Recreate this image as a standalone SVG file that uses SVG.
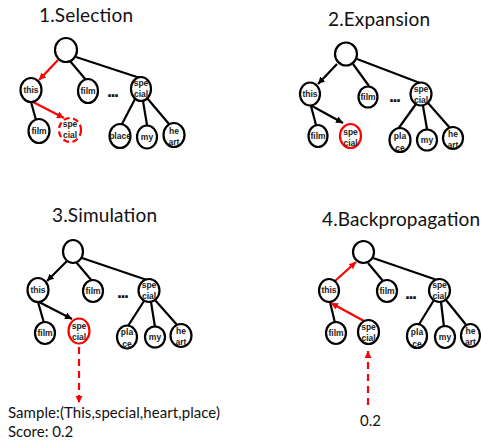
<svg xmlns="http://www.w3.org/2000/svg" width="481" height="442" viewBox="0 0 481 442">
  <style>
    .title { font-family: Lato, "Liberation Sans", sans-serif; font-size: 19px; fill: #111; }
    .note { font-family: Lato, "Liberation Sans", sans-serif; font-size: 15px; fill: #111; }
    .node ellipse { fill: #fff; stroke: #000; stroke-width: 2.2; }
    .node.hot ellipse { stroke: #f00; }
    .node.dash ellipse { stroke: #f00; stroke-dasharray: 6 3.5; }
    .node text { font-family: "Liberation Sans", Arial, sans-serif; font-size: 8.5px; font-weight: bold; fill: #222; text-anchor: middle; }
    .dots { font-family: "Liberation Sans", Arial, sans-serif; font-size: 18px; font-weight: bold; fill: #111; text-anchor: middle; }
    .e { stroke: #000; stroke-width: 2.2; fill: none; }
    .r { stroke: #f00; stroke-width: 2.2; fill: none; }
    .rd { stroke: #f00; stroke-width: 2.2; fill: none; stroke-dasharray: 7 5; }
  </style>
  <defs>
    <marker id="ah-black" markerUnits="userSpaceOnUse" markerWidth="8" markerHeight="8" refX="7" refY="3.5" orient="auto">
      <path d="M0,0 L7,3.5 L0,7 z" fill="#000"/>
    </marker>
    <marker id="ah-red" markerUnits="userSpaceOnUse" markerWidth="8" markerHeight="8" refX="7" refY="3.5" orient="auto">
      <path d="M0,0 L7,3.5 L0,7 z" fill="#f00"/>
    </marker>
  </defs>

  <!-- titles -->
  <text class="title" x="39" y="22" textLength="94">1.Selection</text>
  <text class="title" x="328" y="26" textLength="102">2.Expansion</text>
  <text class="title" x="52" y="222" textLength="105">3.Simulation</text>
  <text class="title" x="322" y="226" textLength="158">4.Backpropagation</text>

  <!-- connectors -->
  <g id="connectors">
    <!-- 1. Selection -->
    <line class="r" x1="58" y1="60" x2="39" y2="80" marker-end="url(#ah-red)"/>
    <line class="e" x1="70" y1="61" x2="86" y2="80"/>
    <line class="e" x1="76" y1="57" x2="140" y2="78"/>
    <line class="e" x1="31" y1="102" x2="36" y2="120"/>
    <line class="r" x1="33" y1="102" x2="64" y2="118" marker-end="url(#ah-red)"/>
    <line class="e" x1="135" y1="99" x2="122" y2="124"/>
    <line class="e" x1="143" y1="101" x2="147" y2="125"/>
    <line class="e" x1="147" y1="98" x2="169" y2="124"/>

    <!-- 2. Expansion -->
    <line class="e" x1="337" y1="64" x2="318" y2="84" marker-end="url(#ah-black)"/>
    <line class="e" x1="353" y1="64" x2="369" y2="86"/>
    <line class="e" x1="357" y1="59" x2="420" y2="83"/>
    <line class="e" x1="311" y1="106" x2="316" y2="125"/>
    <line class="e" x1="312" y1="106" x2="343" y2="123" marker-end="url(#ah-black)"/>
    <line class="e" x1="416" y1="104" x2="398" y2="129"/>
    <line class="e" x1="423" y1="106" x2="427" y2="129"/>
    <line class="e" x1="428" y1="103" x2="450" y2="128"/>

    <!-- 3. Simulation -->
    <line class="e" x1="67" y1="261" x2="47" y2="281" marker-end="url(#ah-black)"/>
    <line class="e" x1="76" y1="262" x2="92" y2="281"/>
    <line class="e" x1="82" y1="258" x2="147" y2="280"/>
    <line class="e" x1="38" y1="302" x2="44" y2="323"/>
    <line class="e" x1="39" y1="302" x2="72" y2="319" marker-end="url(#ah-black)"/>
    <line class="e" x1="144" y1="301" x2="128" y2="326"/>
    <line class="e" x1="151" y1="302" x2="155" y2="327"/>
    <line class="e" x1="155" y1="300" x2="178" y2="326"/>
    <line class="rd" x1="79" y1="347" x2="79" y2="403" marker-end="url(#ah-red)"/>

    <!-- 4. Backpropagation -->
    <line class="r" x1="335" y1="281" x2="356" y2="262" marker-end="url(#ah-red)"/>
    <line class="e" x1="368" y1="263" x2="383" y2="281"/>
    <line class="e" x1="373" y1="258" x2="437" y2="280"/>
    <line class="e" x1="330" y1="302" x2="335" y2="323"/>
    <line class="r" x1="364" y1="321" x2="331" y2="303" marker-end="url(#ah-red)"/>
    <line class="e" x1="434" y1="300" x2="418" y2="326"/>
    <line class="e" x1="441" y1="302" x2="444" y2="327"/>
    <line class="e" x1="446" y1="300" x2="467" y2="326"/>
    <line class="rd" x1="368" y1="405" x2="368" y2="351" marker-end="url(#ah-red)"/>
  </g>

  <!-- 1. Selection tree -->
  <g id="p1-root" class="node"><ellipse cx="66" cy="50" rx="11" ry="12"/></g>
  <g id="p1-this" class="node"><ellipse cx="31" cy="90" rx="10.5" ry="12"/><text x="31" y="92.5">this</text></g>
  <g id="p1-film" class="node"><ellipse cx="88" cy="91" rx="10" ry="12"/><text x="88" y="93.5">film</text></g>
  <text class="dots" x="113" y="97" textLength="12">...</text>
  <g id="p1-special" class="node"><ellipse cx="141" cy="89" rx="10" ry="12"/><text x="141" y="86">spe</text><text x="141" y="97">cial</text></g>
  <g id="p1-this-film" class="node"><ellipse cx="39" cy="131" rx="10.5" ry="12"/><text x="39" y="134">film</text></g>
  <g id="p1-this-special" class="node dash"><ellipse cx="70" cy="130" rx="11" ry="12"/><text x="70" y="127">spe</text><text x="70" y="138">cial</text></g>
  <g id="p1-place" class="node"><ellipse cx="120" cy="136" rx="10.5" ry="12"/><text x="120" y="138.5">place</text></g>
  <g id="p1-my" class="node"><ellipse cx="147" cy="137" rx="10" ry="11.5"/><text x="147" y="139.5">my</text></g>
  <g id="p1-heart" class="node"><ellipse cx="174" cy="135" rx="10.5" ry="12"/><text x="174" y="134">he</text><text x="174" y="145">art</text></g>

  <!-- 2. Expansion tree -->
  <g id="p2-root" class="node"><ellipse cx="346" cy="54" rx="11" ry="11.5"/></g>
  <g id="p2-this" class="node"><ellipse cx="310" cy="94" rx="10" ry="11.5"/><text x="310" y="96.5">this</text></g>
  <g id="p2-film" class="node"><ellipse cx="368" cy="97" rx="9.5" ry="10.5"/><text x="368" y="99.5">film</text></g>
  <text class="dots" x="395" y="102" textLength="12">...</text>
  <g id="p2-special" class="node"><ellipse cx="421" cy="94" rx="10.5" ry="11.5"/><text x="421" y="92">spe</text><text x="421" y="103">cial</text></g>
  <g id="p2-this-film" class="node"><ellipse cx="318" cy="136" rx="9.5" ry="11"/><text x="318" y="139">film</text></g>
  <g id="p2-this-special" class="node hot"><ellipse cx="350.5" cy="136" rx="10.5" ry="12"/><text x="350.5" y="135">spe</text><text x="350.5" y="146">cial</text></g>
  <g id="p2-place" class="node"><ellipse cx="400" cy="140" rx="10.5" ry="12"/><text x="400" y="139">pla</text><text x="400" y="151">ce</text></g>
  <g id="p2-my" class="node"><ellipse cx="427" cy="140" rx="10" ry="10.5"/><text x="427" y="142.5">my</text></g>
  <g id="p2-heart" class="node"><ellipse cx="453" cy="138" rx="10" ry="11"/><text x="453" y="137">he</text><text x="453" y="148">art</text></g>

  <!-- 3. Simulation tree -->
  <g id="p3-root" class="node"><ellipse cx="73" cy="251.5" rx="10" ry="11.5"/></g>
  <g id="p3-this" class="node"><ellipse cx="38" cy="290" rx="10.5" ry="12"/><text x="38" y="292.5">this</text></g>
  <g id="p3-film" class="node"><ellipse cx="93" cy="291" rx="10" ry="11"/><text x="93" y="293.5">film</text></g>
  <text class="dots" x="123" y="298" textLength="12">...</text>
  <g id="p3-special" class="node"><ellipse cx="149" cy="290.5" rx="10.5" ry="11.5"/><text x="149" y="288">spe</text><text x="149" y="299">cial</text></g>
  <g id="p3-this-film" class="node"><ellipse cx="45" cy="333" rx="10" ry="11"/><text x="45" y="335.5">film</text></g>
  <g id="p3-this-special" class="node hot"><ellipse cx="79" cy="331" rx="10.5" ry="12.5"/><text x="79" y="329">spe</text><text x="79" y="340">cial</text></g>
  <g id="p3-place" class="node"><ellipse cx="127" cy="337" rx="10" ry="11.5"/><text x="127" y="335">pla</text><text x="127" y="347">ce</text></g>
  <g id="p3-my" class="node"><ellipse cx="155" cy="337" rx="10" ry="10.5"/><text x="155" y="339.5">my</text></g>
  <g id="p3-heart" class="node"><ellipse cx="181" cy="335.5" rx="10.5" ry="11.5"/><text x="181" y="334">he</text><text x="181" y="345">art</text></g>

  <!-- 4. Backpropagation tree -->
  <g id="p4-root" class="node"><ellipse cx="363.5" cy="252" rx="10.5" ry="11"/></g>
  <g id="p4-this" class="node"><ellipse cx="329" cy="290.5" rx="10" ry="11.5"/><text x="329" y="293">this</text></g>
  <g id="p4-film" class="node"><ellipse cx="387" cy="291" rx="10" ry="11"/><text x="387" y="293.5">film</text></g>
  <text class="dots" x="411" y="299" textLength="12">...</text>
  <g id="p4-special" class="node"><ellipse cx="439.5" cy="290.5" rx="10.5" ry="11.5"/><text x="439.5" y="288">spe</text><text x="439.5" y="299">cial</text></g>
  <g id="p4-this-film" class="node"><ellipse cx="336" cy="333" rx="10" ry="11"/><text x="336" y="335.5">film</text></g>
  <g id="p4-this-special" class="node"><ellipse cx="368.5" cy="332" rx="10.5" ry="12"/><text x="368.5" y="330">spe</text><text x="368.5" y="341">cial</text></g>
  <g id="p4-place" class="node"><ellipse cx="417" cy="336" rx="10" ry="12"/><text x="417" y="335">pla</text><text x="417" y="347">ce</text></g>
  <g id="p4-my" class="node"><ellipse cx="445" cy="337" rx="10" ry="11"/><text x="445" y="339.5">my</text></g>
  <g id="p4-heart" class="node"><ellipse cx="470.5" cy="335.5" rx="9.5" ry="11.5"/><text x="470.5" y="334">he</text><text x="470.5" y="345">art</text></g>

  <!-- rollout results -->
  <text class="note" x="8" y="418" textLength="212">Sample:(This,special,heart,place)</text>
  <text class="note" x="8" y="437">Score: 0.2</text>
  <text class="note" x="360" y="426">0.2</text>
</svg>
